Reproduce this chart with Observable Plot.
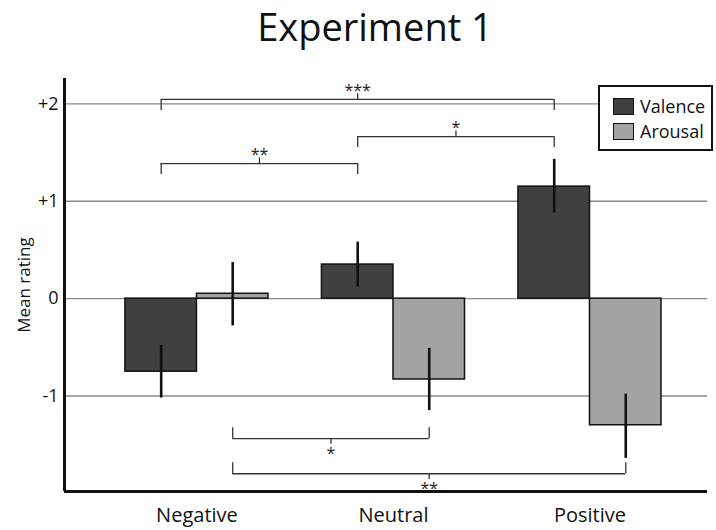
<!DOCTYPE html>
<html>
<head>
<meta charset="utf-8">
<script src="https://cdn.jsdelivr.net/npm/d3@7"></script>
<script src="https://cdn.jsdelivr.net/npm/@observablehq/plot@0.6"></script>
<style>
  html, body { margin: 0; padding: 0; background: #fff; }
  #wrap { position: relative; width: 716px; height: 530px; font-family: "Open Sans", sans-serif; }
  #title { position: absolute; left: 0; top: 0; width: 716px; box-sizing: border-box; padding-left: 34px;
           text-align: center; font-size: 38px; line-height: normal; color: #111; }
  #chart { position: absolute; left: 0; top: 60px; }
  #legend { position: absolute; left: 598px; top: 85px; width: 115px; height: 66px; box-sizing: border-box;
            border: 2px solid #111; background: #fff; font-size: 18px; color: #111; }
  .item { position: absolute; left: 13px; display: flex; align-items: center; height: 20px; }
  .sw { width: 21px; height: 17px; box-sizing: border-box; border: 1.5px solid #111; margin-right: 6px; }
</style>
</head>
<body>
<div id="wrap">
  <div id="title">Experiment 1</div>
  <div id="chart"></div>
  <div id="legend"></div>
</div>
<script>
// ---- data ----
const categories = ["Negative", "Neutral", "Positive"];
const series = ["Valence", "Arousal"];
const valence   = [-0.75, 0.35, 1.15];
const valenceLo = [-1.02, 0.12, 0.88];
const valenceHi = [-0.48, 0.58, 1.43];
const arousal   = [0.05, -0.83, -1.30];
const arousalLo = [-0.28, -1.15, -1.64];
const arousalHi = [0.37, -0.51, -0.98];
const yTicks = [-1, 0, 1, 2];
const yTickLabels = ["-1", "0", "+1", "+2"];

// significance brackets
const bracketFrom   = ["Negative", "Neutral", "Negative", "Negative", "Negative"];
const bracketTo     = ["Positive", "Positive", "Neutral", "Neutral", "Positive"];
const bracketSeries = ["Valence", "Valence", "Valence", "Arousal", "Arousal"];
const bracketLevel  = [2.045, 1.664, 1.387, -1.438, -1.798];
const bracketLabel  = ["***", "*", "**", "*", "**"];

// ---- layout / style ----
const colors = {Valence: "#404040", Arousal: "#a3a3a3"};
const barW = 0.364;           // bar width in category units
const armLen = 0.113, tickLen = 0.058;
const xDomain = [-0.674, 2.598];
const yDomain = [-1.98, 2.26];

const seriesSign = {Valence: -1, Arousal: 1};
const center = (cat, s) => categories.indexOf(cat) + seriesSign[s] * barW / 2;

const rows = [];
categories.forEach((c, i) => {
  rows.push({cat: c, series: "Valence", value: valence[i], lo: valenceLo[i], hi: valenceHi[i], x1: i - barW, x2: i, xc: center(c, "Valence")});
  rows.push({cat: c, series: "Arousal", value: arousal[i], lo: arousalLo[i], hi: arousalHi[i], x1: i, x2: i + barW, xc: center(c, "Arousal")});
});

const brackets = bracketFrom.map((f, k) => {
  const s = bracketSeries[k];
  const dir = s === "Valence" ? 1 : -1; // 1: bracket above bars (arms down)
  const a = center(f, s), b = center(bracketTo[k], s);
  return {x1: a, x2: b, mid: (a + b) / 2, level: bracketLevel[k], label: bracketLabel[k], dir};
});
const arms = brackets.flatMap(d => [
  {x: d.x1, y1: d.level, y2: d.level - d.dir * armLen},
  {x: d.x2, y1: d.level, y2: d.level - d.dir * armLen}
]);

const chart = Plot.plot({
  width: 716,
  height: 470,
  marginLeft: 64,
  marginRight: 9,
  marginTop: 18,
  marginBottom: 39,
  style: {fontFamily: "Open Sans, sans-serif", color: "#111", background: "#fff", overflow: "visible"},
  x: {type: "linear", domain: xDomain},
  y: {domain: yDomain},
  marks: [
    Plot.ruleY(yTicks, {stroke: "#8c8c8c", strokeWidth: 1.4}),
    Plot.axisY(yTicks, {tickSize: 0, tickPadding: 6, fontSize: 18, label: null,
      tickFormat: d => yTickLabels[yTicks.indexOf(d)]}),
    Plot.axisX([0, 1, 2], {tickSize: 0, tickPadding: 16, fontSize: 20, label: null,
      tickFormat: i => categories[i]}),
    Plot.text(["Mean rating"], {frameAnchor: "left", textAnchor: "middle", rotate: -90, dx: -40, fontSize: 17, fill: "#111"}),
    Plot.rect(rows, {x1: "x1", x2: "x2", y1: 0, y2: "value", fill: d => colors[d.series], stroke: "#111", strokeWidth: 1.5}),
    Plot.ruleX(rows, {x: "xc", y1: "lo", y2: "hi", stroke: "#111", strokeWidth: 2.6}),
    Plot.ruleY(brackets, {y: "level", x1: "x1", x2: "x2", stroke: "#333", strokeWidth: 1.3}),
    Plot.ruleX(arms, {x: "x", y1: "y1", y2: "y2", stroke: "#333", strokeWidth: 1.3}),
    Plot.ruleX(brackets, {x: "mid", y1: "level", y2: d => d.level + d.dir * tickLen, stroke: "#333", strokeWidth: 1.3}),
    Plot.text(brackets.filter(d => d.dir > 0), {x: "mid", y: "level", text: "label", dy: -9, fontSize: 16, fill: "#222"}),
    Plot.text(brackets.filter(d => d.dir < 0), {x: "mid", y: "level", text: "label", dy: 15, fontSize: 16, fill: "#222"}),
    Plot.ruleX([xDomain[0]], {stroke: "#111", strokeWidth: 3}),
    Plot.ruleY([yDomain[0]], {stroke: "#111", strokeWidth: 3})
  ]
});
document.getElementById("chart").appendChild(chart);

// legend
const legend = document.getElementById("legend");
series.forEach((s, k) => {
  const item = document.createElement("div");
  item.className = "item";
  item.style.top = (k === 0 ? 9 : 34) + "px";
  const sw = document.createElement("div");
  sw.className = "sw";
  sw.style.background = colors[s];
  item.appendChild(sw);
  item.appendChild(document.createTextNode(s));
  legend.appendChild(item);
});
</script>
</body>
</html>
